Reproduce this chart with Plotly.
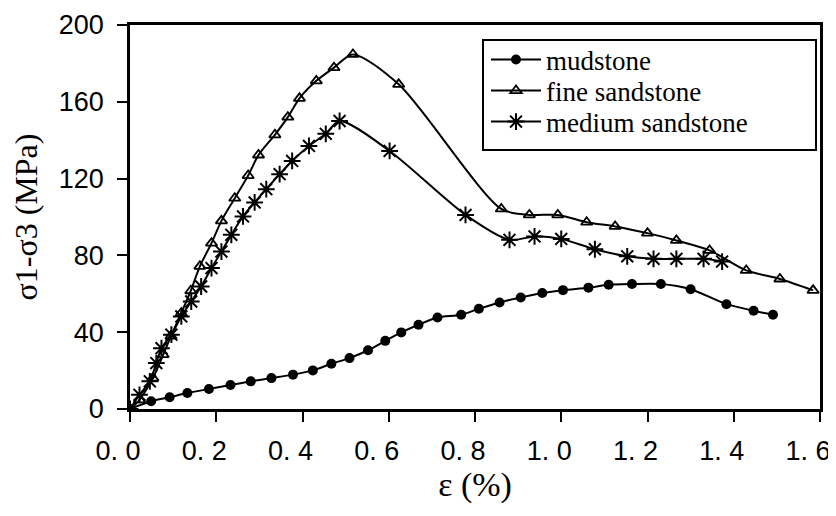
import plotly.graph_objects as go

# ---- data ----
mud_x = [0, 0.049, 0.092, 0.133, 0.183, 0.233, 0.280, 0.328, 0.378, 0.424, 0.467, 0.509, 0.552,
         0.592, 0.629, 0.669, 0.713, 0.768, 0.809, 0.857, 0.906, 0.956, 1.004, 1.063, 1.110,
         1.164, 1.231, 1.300, 1.383, 1.446, 1.491]
mud_y = [0, 4.0, 6.1, 8.3, 10.4, 12.5, 14.4, 16.1, 17.9, 20.1, 23.6, 26.5, 30.6,
         35.5, 39.9, 43.9, 47.7, 49.1, 52.2, 55.5, 58.1, 60.4, 61.9, 63.2, 64.7,
         65.1, 65.1, 62.4, 54.6, 51.2, 49.1]

fine_x = [0, 0.022, 0.053, 0.077, 0.095, 0.119, 0.141, 0.162, 0.189, 0.212, 0.243, 0.274, 0.298,
          0.336, 0.366, 0.393, 0.432, 0.473, 0.517, 0.623, 0.861, 0.926, 0.992, 1.059, 1.125,
          1.200, 1.267, 1.344, 1.429, 1.507, 1.584]
fine_y = [0, 4.8, 16.1, 28.3, 38.0, 50.0, 61.6, 74.3, 86.4, 98.0, 109.8, 121.6, 132.3,
          142.8, 152.0, 161.8, 170.9, 177.8, 184.7, 169.1, 104.2, 101.1, 101.1, 97.3, 95.1,
          91.6, 87.8, 82.6, 72.2, 67.7, 61.8]

med_x = [0, 0.022, 0.046, 0.061, 0.073, 0.096, 0.119, 0.142, 0.165, 0.189, 0.212, 0.235, 0.262,
         0.289, 0.316, 0.347, 0.376, 0.415, 0.454, 0.486, 0.602, 0.778, 0.880, 0.938, 1.000,
         1.078, 1.153, 1.214, 1.267, 1.330, 1.373]
med_y = [0, 7.4, 14.4, 23.9, 31.7, 38.7, 48.2, 56.0, 63.8, 73.4, 82.0, 90.7, 100.3,
         107.6, 114.5, 122.3, 129.2, 137.0, 143.3, 150.0, 134.4, 101.1, 88.1, 89.9, 88.6,
         83.2, 79.5, 78.2, 78.2, 78.2, 76.8]

series_names = ["mudstone", "fine sandstone", "medium sandstone"]
x_tickvals = [0, 0.2, 0.4, 0.6, 0.8, 1.0, 1.2, 1.4, 1.6]
x_ticktext = ["0. 0", "0. 2", "0. 4", "0. 6", "0. 8", "1. 0", "1. 2", "1. 4", "1. 6"]
y_tickvals = [0, 40, 80, 120, 160, 200]

SERIF = "Liberation Serif, Times New Roman, serif"
SANS = "Liberation Sans, Arial, sans-serif"

fig = go.Figure()
line = dict(color="black", width=2, shape="spline", smoothing=0.8)
fig.add_trace(go.Scatter(x=mud_x, y=mud_y, name=series_names[0], mode="lines+markers", legend="legend",
                         line=line, marker=dict(symbol="circle", size=10, color="black")))
fig.add_trace(go.Scatter(x=fine_x, y=fine_y, name=series_names[1], mode="lines+markers", legend="legend2",
                         line=line, marker=dict(symbol="triangle-up-open", size=10, color="black",
                                                line=dict(width=1.8, color="black"))))
fig.add_trace(go.Scatter(x=med_x, y=med_y, name=series_names[2], mode="lines+markers", legend="legend3",
                         line=line, marker=dict(symbol="asterisk-open", size=14, color="black",
                                                line=dict(width=2, color="black"))))

axis_common = dict(showgrid=False, zeroline=False, showline=True, linecolor="black", linewidth=2.5,
                   ticks="outside", ticklen=10, tickwidth=2, tickcolor="black", automargin=False)

# plot area in pixels: x 122..812, y 17..401
def px_x(p):
    return (p - 122) / 690.0

def px_y(p):
    return (401 - p) / 384.0

leg_common = dict(xanchor="left", yanchor="middle", bgcolor="rgba(0,0,0,0)", borderwidth=0,
                  font=dict(family=SERIF, size=27, color="black"), itemwidth=50)

fig.update_layout(
    template="none",
    width=836, height=516,
    margin=dict(l=122, r=24, t=17, b=115, pad=0, autoexpand=False),
    paper_bgcolor="white", plot_bgcolor="white",
    showlegend=True,
    legend=dict(x=px_x(478), y=px_y(52), **leg_common),
    legend2=dict(x=px_x(478), y=px_y(83), **leg_common),
    legend3=dict(x=px_x(478), y=px_y(114), **leg_common),
    shapes=[dict(type="rect", xref="paper", yref="paper", layer="above",
                 x0=px_x(475), x1=px_x(808), y0=px_y(142), y1=px_y(32),
                 line=dict(color="black", width=2), fillcolor="white")],
    xaxis=dict(range=[0, 1.6], tickvals=x_tickvals, ticktext=x_ticktext, mirror=True,
               tickfont=dict(family=SANS, size=27, color="black"),
               ticklabelshift=-12, ticklabelstandoff=6,
               title=dict(text="ε (%)", font=dict(family=SERIF, size=34, color="black"), standoff=8),
               **axis_common),
    yaxis=dict(range=[0, 200], tickvals=y_tickvals, mirror=True,
               tickfont=dict(family=SANS, size=27, color="black"),
               ticklabelstandoff=8,
               title=dict(text="σ1-σ3 (MPa)", font=dict(family=SERIF, size=32, color="black"), standoff=12),
               **axis_common),
    xaxis2=dict(range=[0, 1.6], overlaying="x", anchor="y", tickvals=x_tickvals, showticklabels=False,
                showgrid=False, zeroline=False, showline=False, ticks="inside", ticklen=10, tickwidth=2,
                tickcolor="black", automargin=False),
    yaxis2=dict(range=[0, 200], overlaying="y", anchor="x", tickvals=y_tickvals, showticklabels=False,
                showgrid=False, zeroline=False, showline=False, ticks="inside", ticklen=10, tickwidth=2,
                tickcolor="black", automargin=False),
)
fig.write_html("out.html")
